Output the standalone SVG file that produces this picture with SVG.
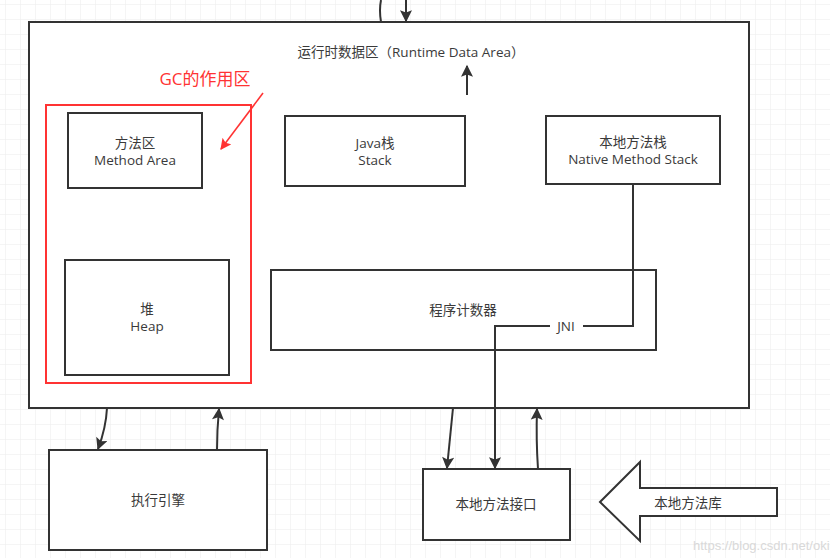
<svg xmlns="http://www.w3.org/2000/svg" width="830" height="558" viewBox="0 0 830 558">
<defs>
<pattern id="grid" x="5" y="4" width="15" height="15" patternUnits="userSpaceOnUse">
<path d="M15 0H0V15" fill="none" stroke="#ebebeb" stroke-width="1"/>
</pattern>
<marker id="ahb" viewBox="0 0 10 10" refX="9" refY="5" markerWidth="14" markerHeight="12" markerUnits="userSpaceOnUse" orient="auto">
<path d="M0 0L10 5L0 10L2 5Z" fill="#333"/>
</marker>
<marker id="ahr" viewBox="0 0 10 10" refX="9" refY="5" markerWidth="12" markerHeight="11" markerUnits="userSpaceOnUse" orient="auto">
<path d="M0 0L10 5L0 10L2 5Z" fill="#ff3333"/>
</marker>
<style>
.box{fill:#fff;stroke:#333;stroke-width:2}
.t{font-family:"Open Sans","Noto Sans CJK SC",sans-serif;font-size:13.5px;fill:#3a3a3a;text-anchor:middle}
.c{fill:none;stroke:#333;stroke-width:2}
</style>
</defs>
<rect width="830" height="558" fill="#fff"/>
<rect width="830" height="558" fill="url(#grid)"/>

<g id="runtime">
<rect class="box" x="29" y="22" width="720" height="386"/>
<text class="t" x="411" y="57">运行时数据区（Runtime Data Area）</text>
</g>

<g id="gc-zone">
<rect x="46" y="105" width="205" height="278" fill="none" stroke="#ff3333" stroke-width="2"/>
<text x="205" y="85" font-family="'Open Sans','Noto Sans CJK SC',sans-serif" font-size="17" fill="#ff3333" text-anchor="middle">GC的作用区</text>
</g>

<g id="method-area">
<rect class="box" x="68" y="113" width="134" height="75"/>
<text class="t" x="135" y="148">方法区</text>
<text class="t" x="135" y="165">Method Area</text>
</g>

<g id="java-stack">
<rect class="box" x="285" y="116" width="180" height="70"/>
<text class="t" x="375" y="148">Java栈</text>
<text class="t" x="375" y="165">Stack</text>
</g>

<g id="native-stack">
<rect class="box" x="546" y="116" width="174" height="68"/>
<text class="t" x="633" y="147">本地方法栈</text>
<text class="t" x="633" y="164">Native Method Stack</text>
</g>

<g id="heap">
<rect class="box" x="65" y="260" width="164" height="115"/>
<text class="t" x="147" y="314">堆</text>
<text class="t" x="147" y="331">Heap</text>
</g>

<g id="pc-register">
<rect class="box" x="271" y="270" width="385" height="80"/>
<text class="t" x="463" y="315">程序计数器</text>
</g>

<g id="exec-engine">
<rect class="box" x="49" y="450" width="218" height="100"/>
<text class="t" x="158" y="505">执行引擎</text>
</g>

<g id="native-interface">
<rect class="box" x="423" y="469" width="147" height="71"/>
<text class="t" x="496" y="509">本地方法接口</text>
</g>

<g id="native-lib">
<path d="M600 502L640 462V488H777V516H640V541Z" fill="#fff" stroke="#333" stroke-width="2"/>
<text class="t" x="688" y="508">本地方法库</text>
</g>

<g id="connectors">
<path class="c" d="M381 0Q379 10 381 22"/>
<path class="c" d="M406 0V21" marker-end="url(#ahb)"/>
<path class="c" d="M467 95V66" marker-end="url(#ahb)"/>
<path d="M263 93L221 149" fill="none" stroke="#ff3333" stroke-width="1.6" marker-end="url(#ahr)"/>
<path class="c" d="M633 184V326H583"/>
<path class="c" d="M550 326H495V468" marker-end="url(#ahb)"/>
<text class="t" x="566" y="331">JNI</text>
<path class="c" d="M107 408Q106 428 98 449" marker-end="url(#ahb)"/>
<path class="c" d="M217 450Q217 430 219 409" marker-end="url(#ahb)"/>
<path class="c" d="M453 408L447 468" marker-end="url(#ahb)"/>
<path class="c" d="M538 469Q536 440 537 409" marker-end="url(#ahb)"/>
</g>
<text x="693" y="550" font-family="'Liberation Sans',sans-serif" font-size="13" fill="#d9d9d9">https://blog.csdn.net/oki</text>
</svg>
